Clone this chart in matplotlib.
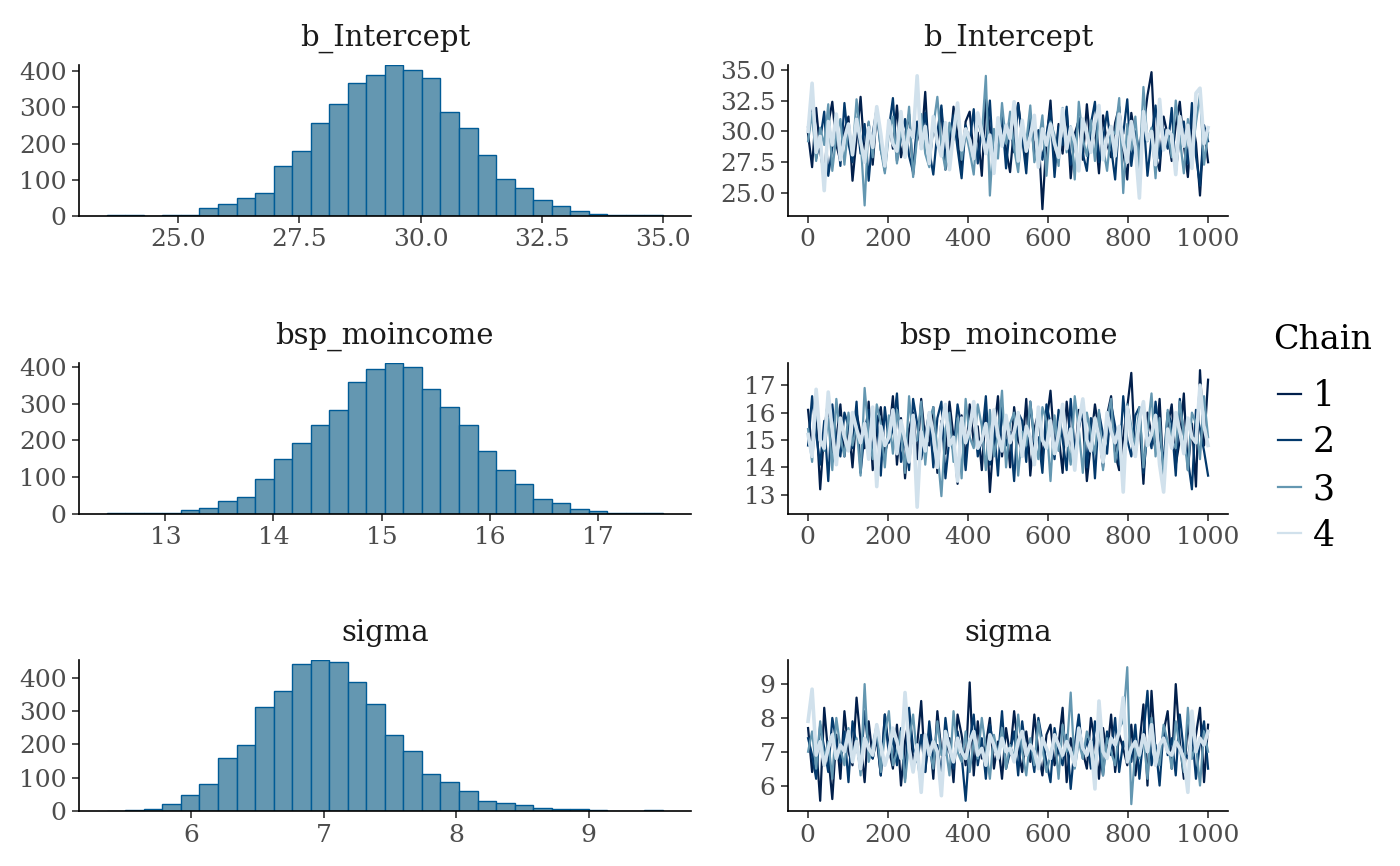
import matplotlib
matplotlib.use("Agg")
import matplotlib.pyplot as plt
from matplotlib.lines import Line2D
import numpy as np

plt.rcParams.update({
    "font.family": "DejaVu Serif",
    "axes.linewidth": 0.6,
    "xtick.major.width": 0.6,
    "ytick.major.width": 0.6,
    "xtick.major.size": 2.5,
    "ytick.major.size": 2.5,
    "xtick.color": "#333333",
    "ytick.color": "#333333",
    "xtick.labelcolor": "#4d4d4d",
    "ytick.labelcolor": "#4d4d4d",
    "xtick.labelsize": 9,
    "ytick.labelsize": 9,
})

params = ["b_Intercept", "bsp_moincome", "sigma"]

# histogram counts (30 bins) and bin range
hist_int = [2, 2, 1, 4, 4, 22, 33, 50, 64, 139, 179, 256, 309, 366, 389,
            416, 404, 381, 287, 242, 168, 102, 78, 43, 27, 15, 5, 4, 4, 2]
hist_mo = [2, 2, 2, 4, 11, 16, 35, 47, 96, 149, 194, 242, 284, 359, 394,
           410, 399, 341, 291, 241, 171, 120, 81, 40, 30, 14, 9, 3, 3, 3]
hist_sig = [1, 3, 7, 20, 48, 82, 158, 198, 313, 361, 442, 453, 448, 389, 322,
            230, 181, 110, 88, 60, 29, 23, 19, 9, 6, 6, 2, 1, 1, 4]
hist_range = {"b_Intercept": (23.53, 35.0),
              "bsp_moincome": (12.457, 17.605),
              "sigma": (5.363, 9.561)}

# trace draws, every 10th iteration per chain (estimated)
int_c1 = [29.8, 27.1, 31.9, 28.4, 26.3, 30.6, 32.4, 28.9, 27.6, 30.1,
          31.2, 26.0, 29.4, 32.8, 28.1, 30.7, 27.3, 31.5, 29.0, 26.8,
          30.9, 28.6, 32.1, 27.9, 29.7, 31.4, 26.5, 30.2, 28.8, 33.2,
          27.4, 30.5, 29.1, 31.8, 26.9, 28.3, 32.0, 29.6, 27.0, 30.8,
          31.6, 28.0, 29.9, 26.4, 32.6, 30.3, 27.8, 29.2, 31.0, 28.5,
          26.7, 30.4, 32.3, 29.5, 27.5, 31.1, 28.7, 30.0, 23.7, 29.3,
          32.5, 27.2, 30.6, 28.2, 31.7, 26.2, 29.8, 30.9, 27.7, 32.2,
          28.6, 30.1, 26.6, 31.3, 29.0, 27.9, 30.7, 32.0, 28.4, 26.1,
          31.5, 29.4, 27.3, 30.2, 32.9, 34.8, 28.0, 26.8, 31.2, 29.7,
          27.6, 30.5, 32.4, 28.9, 26.3, 31.0, 29.1, 24.8, 30.3, 27.5]
int_c2 = [30.4, 32.0, 27.8, 29.3, 31.6, 26.4, 28.7, 30.9, 27.2, 32.3,
          29.0, 27.5, 31.1, 28.2, 30.6, 26.0, 29.8, 31.9, 28.5, 27.1,
          30.2, 32.7, 27.6, 29.4, 31.0, 28.0, 26.7, 30.8, 29.2, 31.5,
          28.4, 26.5, 30.0, 32.1, 27.9, 29.6, 31.3, 28.6, 26.2, 30.5,
          29.1, 31.8, 27.4, 30.3, 28.8, 32.5, 26.9, 29.9, 31.2, 27.0,
          30.7, 28.3, 32.2, 29.5, 26.6, 31.4, 28.1, 30.1, 27.7, 29.7,
          31.7, 26.3, 30.4, 28.9, 32.0, 27.3, 29.0, 31.1, 28.2, 26.8,
          30.6, 32.4, 27.5, 29.3, 31.6, 28.7, 26.1, 30.9, 29.8, 32.6,
          27.2, 30.0, 28.4, 31.3, 26.4, 29.5, 32.1, 27.8, 30.2, 28.6,
          31.9, 26.7, 29.6, 30.8, 27.4, 32.3, 28.0, 25.6, 30.5, 29.2]
int_c3 = [29.2, 31.5, 27.6, 30.3, 28.9, 32.2, 26.8, 29.7, 31.0, 27.3,
          30.6, 28.1, 32.6, 29.4, 24.0, 30.8, 27.9, 31.7, 28.5, 26.6,
          29.9, 31.2, 27.4, 30.1, 28.7, 32.0, 26.3, 29.5, 31.4, 28.2,
          27.1, 30.4, 32.8, 28.8, 26.9, 30.7, 29.3, 31.8, 27.7, 30.0,
          28.4, 26.5, 31.1, 29.6, 34.5, 24.8, 30.2, 27.8, 32.3, 29.0,
          31.6, 28.6, 26.7, 30.5, 29.1, 32.1, 27.5, 28.9, 31.3, 26.4,
          30.8, 29.7, 27.2, 31.9, 28.3, 30.4, 26.1, 32.4, 29.4, 28.0,
          30.9, 27.6, 31.5, 28.8, 26.8, 30.1, 29.8, 32.7, 25.0, 30.6,
          28.5, 31.2, 27.0, 33.6, 29.2, 30.3, 26.2, 31.8, 28.7, 30.0,
          27.9, 32.5, 29.5, 26.6, 31.0, 28.1, 30.7, 33.0, 27.3, 29.9]
int_c4 = [30.0, 33.9, 28.3, 29.6, 25.2, 30.8, 28.9, 31.4, 27.7, 29.4,
          30.6, 28.1, 31.0, 29.2, 27.5, 30.3, 28.7, 32.0, 29.8, 27.2,
          30.9, 29.0, 28.4, 31.6, 27.9, 30.1, 29.5, 34.5, 28.6, 30.4,
          27.4, 31.2, 29.1, 28.0, 30.7, 26.9, 29.9, 32.3, 28.5, 30.2,
          29.3, 27.8, 31.5, 30.0, 28.2, 29.7, 26.6, 31.1, 28.8, 30.5,
          29.4, 32.4, 27.6, 30.9, 28.4, 29.6, 31.3, 27.1, 30.2, 28.9,
          30.6, 29.0, 27.9, 31.8, 28.6, 30.3, 29.2, 26.8, 31.0, 29.8,
          28.3, 30.7, 32.1, 27.7, 29.5, 30.4, 28.0, 31.4, 29.1, 27.5,
          30.8, 28.7, 24.6, 31.6, 29.3, 30.0, 27.3, 32.6, 28.5, 30.1,
          29.7, 26.5, 31.2, 28.8, 30.5, 27.0, 33.1, 33.5, 29.0, 30.3]

mo_c1 = [16.1, 14.6, 15.9, 13.2, 15.3, 16.5, 14.2, 15.0, 16.3, 14.4,
         15.6, 14.0, 16.0, 15.2, 14.7, 16.4, 13.9, 15.5, 16.2, 14.5,
         15.1, 16.6, 14.1, 15.8, 13.6, 15.4, 16.0, 14.3, 16.5, 15.0,
         14.8, 16.2, 13.8, 15.7, 14.5, 16.4, 15.1, 13.4, 15.9, 14.2,
         16.3, 14.9, 15.5, 13.9, 16.1, 13.1, 15.2, 16.6, 14.4, 15.8,
         14.0, 16.2, 15.0, 14.6, 16.5, 13.7, 15.4, 16.0, 14.3, 15.6,
         16.8, 14.8, 15.2, 13.8, 16.4, 15.0, 14.2, 16.1, 15.7, 13.5,
         14.9, 16.3, 15.3, 14.0, 15.9, 16.6, 14.5, 13.9, 15.1, 16.2,
         17.45, 14.4, 15.8, 13.4, 16.0, 15.2, 14.7, 16.5, 13.6, 15.5,
         16.3, 14.1, 15.0, 16.7, 13.9, 15.6, 13.3, 17.55, 14.8, 17.2]
mo_c2 = [14.8, 16.6, 15.2, 14.1, 15.7, 13.5, 16.3, 15.0, 14.4, 16.0,
         15.5, 14.7, 16.4, 13.8, 15.3, 16.1, 14.5, 15.9, 13.7, 16.2,
         14.9, 15.4, 16.7, 14.2, 15.0, 13.9, 16.5, 15.6, 14.3, 15.2,
         16.0, 14.0, 15.8, 16.4, 13.6, 15.1, 14.6, 16.3, 15.4, 13.9,
         15.7, 16.1, 14.4, 15.0, 16.6, 14.1, 15.5, 13.7, 16.2, 14.8,
         15.3, 13.5, 16.0, 15.7, 14.2, 16.4, 14.9, 15.1, 13.8, 16.3,
         15.6, 14.3, 16.1, 15.0, 13.9, 16.5, 14.6, 15.4, 16.2, 14.0,
         15.8, 13.6, 16.0, 15.2, 14.5, 16.3, 15.5, 14.1, 16.6, 15.0,
         14.4, 15.9, 16.2, 13.8, 15.3, 14.7, 16.4, 15.1, 14.2, 16.0,
         15.6, 13.7, 16.5, 15.2, 14.3, 13.2, 16.1, 15.4, 14.6, 13.7]
mo_c3 = [15.4, 14.2, 16.2, 15.0, 14.6, 15.8, 13.9, 16.5, 15.1, 14.4,
         16.0, 14.8, 15.5, 13.7, 16.9, 15.2, 14.3, 16.3, 15.6, 14.0,
         15.9, 14.5, 16.1, 15.3, 13.8, 16.6, 14.9, 15.0, 16.4, 14.1,
         15.7, 16.2, 14.6, 12.95, 15.4, 16.0, 14.2, 15.8, 13.6, 16.5,
         15.1, 14.7, 16.3, 15.5, 13.9, 16.1, 14.4, 15.2, 16.8, 14.0,
         15.6, 16.0, 13.7, 15.3, 14.8, 16.4, 15.0, 14.3, 16.2, 15.7,
         13.5, 15.9, 14.6, 16.3, 15.1, 14.1, 16.6, 15.4, 13.8, 16.0,
         15.2, 14.5, 16.1, 13.9, 15.7, 16.5, 14.2, 15.0, 13.4, 16.3,
         15.5, 14.8, 16.2, 14.0, 15.3, 16.7, 14.4, 15.8, 13.6, 16.1,
         15.0, 14.7, 16.4, 15.2, 13.9, 16.0, 15.6, 14.3, 16.6, 15.1]
mo_c4 = [15.2, 14.4, 16.85, 15.0, 14.7, 16.75, 15.3, 14.1, 15.8, 15.1,
         14.6, 16.0, 15.4, 14.9, 15.6, 14.3, 16.2, 13.3, 15.5, 14.8,
         15.1, 16.1, 14.5, 15.7, 15.0, 14.2, 15.9, 12.55, 15.3, 14.6,
         16.0, 15.2, 14.0, 15.5, 16.3, 14.8, 15.1, 13.5, 15.8, 14.9,
         15.4, 16.4, 14.7, 15.0, 15.6, 14.3, 16.1, 15.2, 14.6, 15.9,
         14.9, 15.3, 16.0, 14.4, 15.5, 15.1, 14.1, 16.2, 15.0, 14.7,
         15.7, 14.5, 15.2, 16.3, 14.8, 15.4, 13.9, 15.6, 16.5, 15.0,
         14.6, 15.8, 15.1, 14.2, 16.0, 15.3, 14.9, 15.5, 13.1, 16.2,
         15.0, 14.4, 15.7, 16.4, 14.8, 15.2, 15.9, 14.1, 13.1, 15.4,
         14.7, 16.0, 15.3, 14.5, 15.8, 15.1, 14.9, 17.0, 15.5, 14.8]

sig_c1 = [7.7, 6.4, 7.2, 5.55, 8.3, 6.9, 5.6, 7.5, 6.2, 8.2,
          7.0, 6.6, 8.6, 7.3, 6.1, 7.9, 6.8, 7.4, 6.3, 8.1,
          7.1, 6.5, 7.8, 6.0, 7.3, 8.0, 6.7, 7.2, 8.5, 6.4,
          7.6, 6.2, 8.2, 7.0, 6.9, 7.4, 6.1, 8.1, 7.5, 6.6,
          9.05, 6.3, 7.9, 6.8, 7.2, 8.0, 6.5, 7.3, 6.2, 7.7,
          6.9, 8.2, 7.1, 6.4, 7.6, 6.7, 8.1, 7.0, 6.3, 7.5,
          7.8, 6.6, 7.2, 8.3, 6.1, 7.4, 6.8, 7.9, 7.0, 6.5,
          8.0, 7.3, 6.2, 7.7, 6.9, 8.1, 6.4, 7.5, 7.1, 6.6,
          7.8, 6.3, 7.2, 8.4, 6.0, 8.8, 7.0, 6.7, 7.6, 8.2,
          6.5, 9.0, 7.3, 6.2, 7.9, 6.8, 7.5, 8.3, 6.1, 7.8]
sig_c2 = [7.4, 6.9, 6.2, 7.8, 7.1, 6.4, 8.0, 7.3, 6.7, 7.6,
          6.1, 7.9, 7.2, 6.5, 8.2, 7.0, 6.8, 7.5, 6.3, 8.1,
          6.9, 7.4, 6.6, 7.7, 6.2, 8.3, 7.1, 6.7, 7.5, 6.4,
          7.9, 6.8, 7.2, 6.3, 8.0, 7.0, 6.5, 7.6, 6.9, 5.55,
          7.3, 8.1, 6.6, 7.4, 6.2, 7.8, 7.1, 6.8, 8.2, 6.5,
          7.0, 7.6, 6.3, 7.9, 6.9, 7.2, 6.4, 8.0, 7.3, 6.7,
          6.1, 7.7, 7.0, 6.6, 7.5, 5.9, 7.2, 8.1, 6.8, 7.4,
          6.5, 7.9, 7.1, 6.3, 7.6, 6.9, 8.0, 6.4, 7.3, 7.0,
          6.7, 7.8, 6.2, 7.5, 8.8, 6.6, 7.2, 6.0, 7.7, 6.9,
          7.4, 6.3, 8.1, 7.0, 6.8, 7.6, 6.2, 7.3, 7.9, 6.5]
sig_c3 = [7.0, 7.6, 6.5, 7.9, 6.8, 7.3, 6.2, 8.0, 7.1, 6.6,
          7.7, 6.9, 7.4, 6.3, 9.0, 6.7, 7.2, 7.8, 6.4, 7.5,
          8.2, 6.6, 7.0, 7.6, 6.1, 7.3, 8.1, 6.8, 6.0, 7.4,
          7.1, 6.5, 7.9, 6.9, 7.2, 6.3, 8.2, 7.0, 6.7, 7.6,
          6.4, 7.3, 6.8, 8.0, 7.1, 6.2, 7.5, 6.9, 7.7, 6.5,
          7.2, 6.8, 8.1, 7.0, 6.3, 7.4, 6.6, 7.9, 7.1, 6.4,
          6.9, 7.5, 6.2, 7.8, 7.0, 8.75, 6.5, 7.3, 6.8, 7.6,
          7.2, 6.7, 8.0, 6.3, 7.4, 7.0, 6.6, 7.7, 7.9, 9.5,
          5.45, 7.1, 6.8, 7.5, 6.2, 8.0, 7.0, 6.6, 7.8, 7.3,
          6.5, 7.9, 7.1, 6.4, 8.3, 6.8, 7.2, 6.0, 7.6, 7.0]
sig_c4 = [7.9, 8.85, 6.9, 7.3, 6.6, 7.1, 7.5, 6.8, 7.2, 7.0,
          7.6, 6.7, 7.3, 6.5, 7.4, 7.1, 6.9, 7.8, 7.2, 6.6,
          7.0, 7.7, 7.3, 6.8, 8.75, 7.1, 6.4, 7.2, 5.8, 7.5,
          6.9, 7.3, 7.0, 5.7, 7.6, 7.1, 6.7, 7.4, 7.0, 6.8,
          7.3, 7.6, 6.9, 7.1, 6.6, 7.5, 7.2, 6.8, 7.4, 7.0,
          7.1, 6.7, 7.3, 7.6, 6.9, 7.2, 7.0, 6.5, 7.4, 7.1,
          6.8, 7.5, 7.2, 6.9, 7.3, 7.0, 6.6, 7.7, 7.1, 6.9,
          7.3, 5.9, 8.5, 7.0, 6.8, 7.4, 7.2, 7.6, 8.6, 6.7,
          7.1, 7.3, 6.9, 7.5, 7.0, 7.8, 6.6, 7.2, 7.4, 7.0,
          6.9, 7.3, 7.1, 6.8, 5.8, 8.2, 7.0, 7.4, 7.2, 7.6]

hists = {"b_Intercept": hist_int, "bsp_moincome": hist_mo, "sigma": hist_sig}
traces = {"b_Intercept": [int_c1, int_c2, int_c3, int_c4],
          "bsp_moincome": [mo_c1, mo_c2, mo_c3, mo_c4],
          "sigma": [sig_c1, sig_c2, sig_c3, sig_c4]}
iterations = np.linspace(1, 1000, len(int_c1))

hist_xticks = {"b_Intercept": [25.0, 27.5, 30.0, 32.5, 35.0],
               "bsp_moincome": [13, 14, 15, 16, 17],
               "sigma": [6, 7, 8, 9]}
trace_yticks = {"b_Intercept": [25.0, 27.5, 30.0, 32.5, 35.0],
                "bsp_moincome": [13, 14, 15, 16, 17],
                "sigma": [6, 7, 8, 9]}
tick_fmt = {"b_Intercept": "{:.1f}", "bsp_moincome": "{:.0f}", "sigma": "{:.0f}"}

chain_labels = ["1", "2", "3", "4"]
chain_colors = ["#011f4b", "#03396c", "#6497b1", "#d1e1ec"]
chain_widths = [0.8, 0.8, 0.8, 1.3]
HIST_FILL = "#6497b1"
HIST_EDGE = "#005b96"

fig = plt.figure(figsize=(7, 4.33), dpi=200)
row_bottoms = [0.7506, 0.4065, 0.0635]
panel_h = 0.174


def style(ax):
    for s in ("top", "right"):
        ax.spines[s].set_visible(False)
    ax.tick_params(pad=2)


for i, p in enumerate(params):
    # histogram
    ax = fig.add_axes([0.0564, row_bottoms[i], 0.437, panel_h])
    counts = hists[p]
    lo, hi = hist_range[p]
    edges = np.linspace(lo, hi, len(counts) + 1)
    ax.bar(edges[:-1], counts, width=np.diff(edges), align="edge",
           color=HIST_FILL, edgecolor=HIST_EDGE, linewidth=0.5)
    pad = 0.05 * (hi - lo)
    ax.set_xlim(lo - pad, hi + pad)
    ax.set_ylim(0, max(counts))
    ax.set_yticks([0, 100, 200, 300, 400])
    ax.set_xticks(hist_xticks[p])
    ax.set_xticklabels([tick_fmt[p].format(v) for v in hist_xticks[p]])
    ax.set_title(p, fontsize=10.5, color="#1a1a1a", pad=7)
    style(ax)

    # trace
    ax = fig.add_axes([0.5629, row_bottoms[i], 0.3143, panel_h])
    for vals, col, lw in zip(traces[p], chain_colors, chain_widths):
        ax.plot(iterations, vals, color=col, linewidth=lw)
    ax.margins(x=0.05, y=0.05)
    ax.set_xticks([0, 200, 400, 600, 800, 1000])
    ax.set_yticks(trace_yticks[p])
    ax.set_yticklabels([tick_fmt[p].format(v) for v in trace_yticks[p]])
    ax.set_title(p, fontsize=10.5, color="#1a1a1a", pad=7)
    style(ax)

# legend: title placed separately so the gap to the keys matches
fig.text(1273 / 1400, 1 - 340 / 866, "Chain", fontsize=12, ha="left",
         va="center")
handles = [Line2D([], [], color=c, linewidth=0.8) for c in chain_colors]
fig.legend(handles, chain_labels, loc="upper left",
           bbox_to_anchor=(1278 / 1400, 1 - 379 / 866), frameon=False,
           fontsize=12.5, handlelength=0.65, handletextpad=0.35,
           labelspacing=0.36, borderpad=0, borderaxespad=0)

fig.savefig("out.png", dpi=200)
